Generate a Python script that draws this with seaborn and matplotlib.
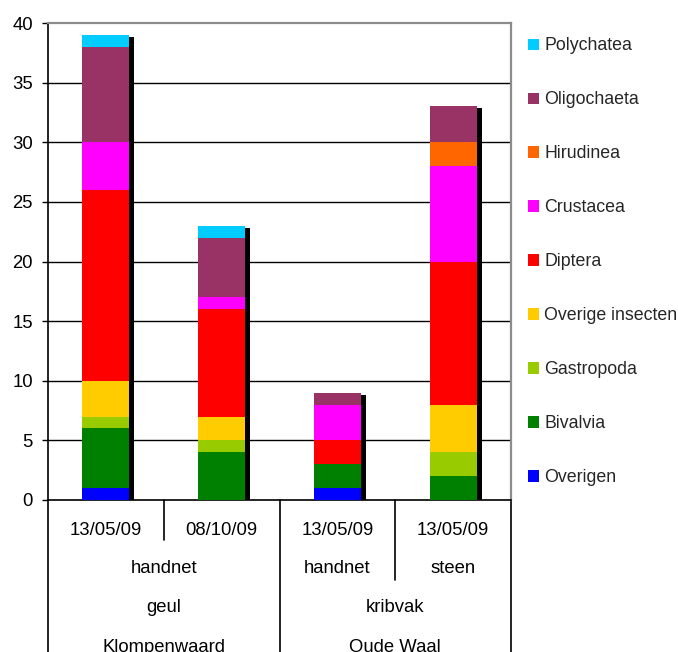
import numpy as np
import pandas as pd
import seaborn as sns
import matplotlib
matplotlib.use("Agg")
import matplotlib.pyplot as plt
from matplotlib.patches import Patch
from matplotlib import transforms

# Sample identifiers and their multi-level axis labels
samples = ["KW-geul-hn-1", "KW-geul-hn-2", "OW-krib-hn", "OW-krib-st"]
dates = ["13/05/09", "08/10/09", "13/05/09", "13/05/09"]
methods = ["handnet", "handnet", "handnet", "steen"]
habitats = ["geul", "geul", "kribvak", "kribvak"]
locations = ["Klompenwaard", "Klompenwaard", "Oude Waal", "Oude Waal"]

# Taxon groups, bottom of the stack first
groups = ["Overigen", "Bivalvia", "Gastropoda", "Overige insecten", "Diptera",
          "Crustacea", "Hirudinea", "Oligochaeta", "Polychatea"]
overigen = [1, 0, 1, 0]
bivalvia = [5, 4, 2, 2]
gastropoda = [1, 1, 0, 2]
overige_insecten = [3, 2, 0, 4]
diptera = [16, 9, 2, 12]
crustacea = [4, 1, 3, 8]
hirudinea = [0, 0, 0, 2]
oligochaeta = [8, 5, 1, 3]
polychatea = [1, 1, 0, 0]

colors = ["#0000FF", "#008000", "#99CC00", "#FFCC00", "#FF0000",
          "#FF00FF", "#FF6600", "#993366", "#00CCFF"]

counts = [overigen, bivalvia, gastropoda, overige_insecten, diptera,
          crustacea, hirudinea, oligochaeta, polychatea]

rows = []
for g, vals in zip(groups, counts):
    for s, v in zip(samples, vals):
        rows.append({"sample": s, "group": g, "count": v})
df = pd.DataFrame(rows)
df["group"] = pd.Categorical(df["group"], categories=groups, ordered=True)
df = df.sort_values(["sample", "group"])
df["cum"] = df.groupby("sample")["count"].cumsum()
totals = df.groupby("sample", sort=False)["count"].sum().reindex(samples).reset_index()

sns.set_theme(style="white")
plt.rcParams["font.family"] = ["Liberation Sans", "DejaVu Sans"]

W, H = 678, 652
fig = plt.figure(figsize=(W / 100, H / 100), dpi=100)
ax = fig.add_axes([48 / W, 1 - 500 / H, (511 - 48) / W, (500 - 23) / H])

bar_w = 0.405

# Drop shadow behind each stacked column
sns.barplot(data=totals, x="sample", y="count", order=samples, color="black",
            width=bar_w, saturation=1, errorbar=None, linewidth=0, ax=ax, zorder=2)
shift = transforms.ScaledTranslation(5 / 100, -2 / 100, fig.dpi_scale_trans)
for p in ax.patches:
    p.set_transform(p.get_data_transform() + shift)

# Stacked columns: draw cumulative totals from the top layer downwards
for g, c in reversed(list(zip(groups, colors))):
    sub = df[df["group"] == g]
    sns.barplot(data=sub, x="sample", y="cum", order=samples, color=c,
                width=bar_w, saturation=1, errorbar=None, linewidth=0,
                ax=ax, zorder=3)

ax.set_xlim(-0.5, 3.5)
ax.set_ylim(0, 40)
ax.set_yticks(np.arange(0, 41, 5))
ax.set_xlabel("")
ax.set_ylabel("")
ax.tick_params(axis="x", length=0, labelbottom=False)
ax.tick_params(axis="y", length=4.3, width=1, color="black", pad=6.5,
               labelsize=13.3, labelcolor="black", left=True)
for y in range(5, 40, 5):
    ax.axhline(y, color="black", lw=1.0, zorder=1)
ax.spines["top"].set_color("#8c8c8c")
ax.spines["right"].set_color("#8c8c8c")
ax.spines["top"].set_linewidth(1.6)
ax.spines["right"].set_linewidth(1.6)
ax.spines["left"].set_color("black")
ax.spines["bottom"].set_color("black")
ax.spines["left"].set_linewidth(1.2)
ax.spines["bottom"].set_linewidth(1.2)

# Multi-level category axis below the plot
tr = transforms.blended_transform_factory(ax.transData, fig.transFigure)
def fy(py):
    return 1 - py / H

fs = 13.3
for i, d in enumerate(dates):
    ax.text(i, fy(535), d, transform=tr, ha="center", va="baseline", fontsize=fs, color="black")

def spans(labels, parents=None):
    out = []
    start = 0
    n = len(labels)
    for i in range(1, n + 1):
        new_run = (i == n or labels[i] != labels[start]
                   or (parents is not None and parents[i] != parents[start]))
        if new_run:
            out.append((start, i - 1, labels[start]))
            start = i
    return out

for a, b, lab in spans(methods, habitats):
    ax.text((a + b) / 2, fy(573), lab, transform=tr, ha="center", va="baseline", fontsize=fs, color="black")
for a, b, lab in spans(habitats, locations):
    ax.text((a + b) / 2, fy(612.5), lab, transform=tr, ha="center", va="baseline", fontsize=fs, color="black")
for a, b, lab in spans(locations):
    ax.text((a + b) / 2, fy(652.5), lab, transform=tr, ha="center", va="baseline", fontsize=fs, color="black")

# Separator lines between label groups
seps = [(-0.5, 660), (0.5, 540), (1.5, 660), (2.5, 580), (3.5, 660)]
for x, yb in seps:
    ax.plot([x, x], [fy(500), fy(yb)], transform=tr, color="black", lw=1.2, clip_on=False)

handles = [Patch(facecolor=c, edgecolor="none", label=g)
           for g, c in reversed(list(zip(groups, colors)))]
fig.legend(handles=handles, loc="upper left", bbox_to_anchor=(528 / W, fy(37.5)),
           frameon=False, fontsize=12.8, borderpad=0, borderaxespad=0,
           handlelength=0.61, handleheight=0.61, handletextpad=0.3,
           labelspacing=2.08)

fig.savefig("out.png", dpi=100)
